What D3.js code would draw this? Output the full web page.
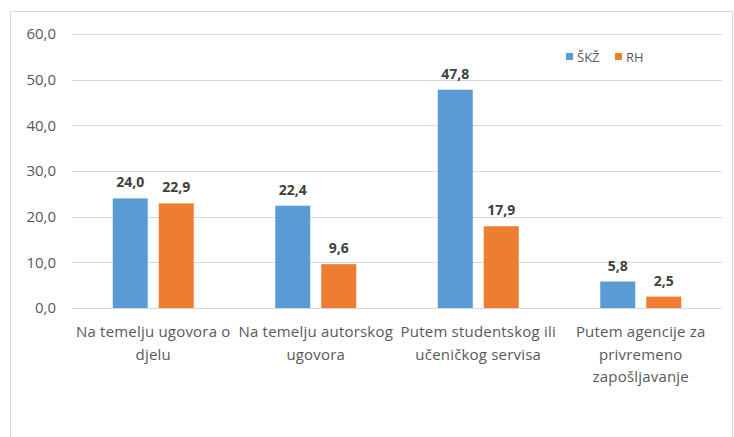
<!DOCTYPE html>
<meta charset="utf-8">
<style>
body { margin: 0; background: #fff; }
text { font-family: "Open Sans", sans-serif; }
.grid line { stroke: #d9d9d9; stroke-width: 1px; }
.ylab text { fill: #595959; font-size: 15px; }
.xlab text { fill: #595959; font-size: 15px; letter-spacing: 0.2px; }
.val { fill: #404040; font-size: 14px; font-weight: bold; }
.legend text { fill: #595959; font-size: 13px; }
</style>
<svg width="734" height="437"></svg>
<script src="https://d3js.org/d3.v7.min.js"></script>
<script>

var categories = [
  "Na temelju ugovora o\ndjelu",
  "Na temelju autorskog\nugovora",
  "Putem studentskog ili\nučeničkog servisa",
  "Putem agencije za\nprivremeno\nzapošljavanje"
];
var seriesNames = ["ŠKŽ", "RH"];
var skz = [24.0, 22.4, 47.8, 5.8];
var rh = [22.9, 9.6, 17.9, 2.5];
var yTicks = [0, 10, 20, 30, 40, 50, 60];
var colors = ["#5b9bd5", "#ed7d31"];

var svg = d3.select("svg");

// chart border
svg.append("rect")
    .attr("x", 10.5).attr("y", 11.5)
    .attr("width", 722).attr("height", 440)
    .attr("fill", "#fff")
    .attr("stroke", "#d9d9d9");

var x = d3.scaleBand()
    .domain(d3.range(categories.length))
    .range([72, 722]);

var y = d3.scaleLinear()
    .domain([0, 60])
    .range([308, 34]);

var fmt = function(v) { return d3.format(".1f")(v).replace(".", ","); };

// gridlines
svg.append("g").attr("class", "grid")
  .selectAll("line")
  .data(yTicks)
  .enter().append("line")
    .attr("x1", 72).attr("x2", 722)
    .attr("y1", function(d) { return Math.round(y(d)) + 0.5; })
    .attr("y2", function(d) { return Math.round(y(d)) + 0.5; });

// y labels
svg.append("g").attr("class", "ylab")
  .selectAll("text")
  .data(yTicks)
  .enter().append("text")
    .attr("x", 56)
    .attr("y", function(d) { return y(d); })
    .attr("dy", "0.35em")
    .attr("text-anchor", "end")
    .text(fmt);

var barW = 35, gap = 11;
var series = [skz, rh];

series.forEach(function(vals, si) {
  var g = svg.append("g");
  g.selectAll("rect")
    .data(vals)
    .enter().append("rect")
      .attr("x", function(d, i) {
        var c = x(i) + x.bandwidth() / 2;
        return si === 0 ? c - gap / 2 - barW : c + gap / 2;
      })
      .attr("y", function(d) { return y(d); })
      .attr("width", barW)
      .attr("height", function(d) { return y(0) - y(d); })
      .attr("fill", colors[si]);

  g.selectAll("text")
    .data(vals)
    .enter().append("text")
      .attr("class", "val")
      .attr("x", function(d, i) {
        var c = x(i) + x.bandwidth() / 2;
        return si === 0 ? c - gap / 2 - barW / 2 : c + gap / 2 + barW / 2;
      })
      .attr("y", function(d) { return y(d) - 11; })
      .attr("text-anchor", "middle")
      .text(fmt);
});

// category labels
var xl = svg.append("g").attr("class", "xlab")
  .selectAll("text")
  .data(categories)
  .enter().append("text")
    .attr("text-anchor", "middle")
    .attr("x", function(d, i) { return x(i) + x.bandwidth() / 2; })
    .attr("y", 337);

xl.selectAll("tspan")
  .data(function(d) { return d.split("\n"); })
  .enter().append("tspan")
    .attr("x", function() { return d3.select(this.parentNode).attr("x"); })
    .attr("dy", function(d, i) { return i === 0 ? 0 : 22.5; })
    .text(function(d) { return d; });

// legend
var leg = svg.append("g").attr("class", "legend");
var legX = [566, 615];
seriesNames.forEach(function(n, i) {
  leg.append("rect")
    .attr("x", legX[i]).attr("y", 53)
    .attr("width", 7).attr("height", 7)
    .attr("fill", colors[i]);
  leg.append("text")
    .attr("x", legX[i] + 11).attr("y", 57)
    .attr("dy", "0.35em")
    .text(n);
});

</script>
